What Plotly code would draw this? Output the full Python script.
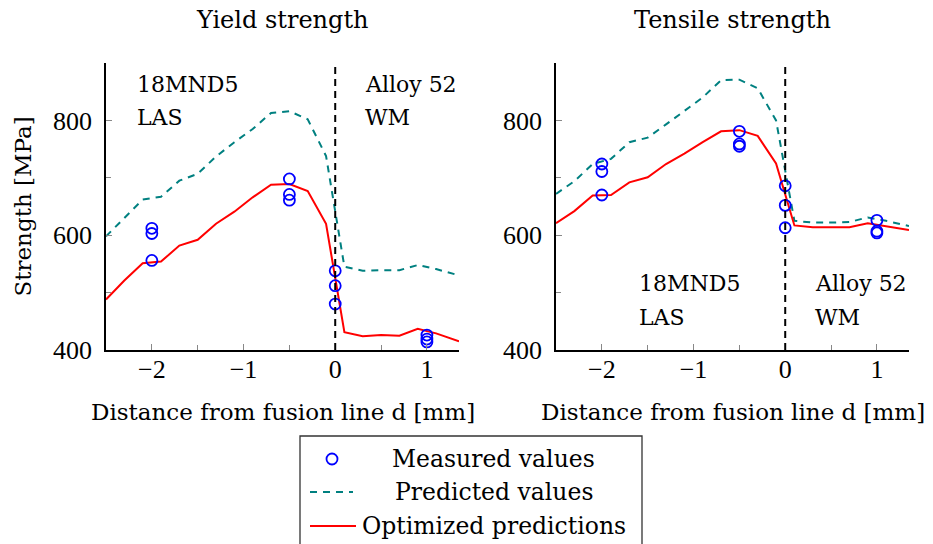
import plotly.graph_objects as go

# ---------------- data ----------------
x_grid = [-2.5, -2.3, -2.1, -1.9, -1.7, -1.5, -1.3, -1.1, -0.9, -0.7, -0.5,
          -0.3, -0.1, 0.1, 0.3, 0.5, 0.7, 0.9, 1.1, 1.35]

yield_predicted = [598, 630, 662, 667, 695, 707, 737, 762, 785, 813, 816,
                   802, 738, 545, 538, 539, 539, 548, 541, 530]
yield_optimized = [488, 521, 551, 554, 582, 592, 620, 641, 666, 688, 689,
                   677, 620, 431, 424, 426, 425, 437, 429, 415]

tensile_predicted = [672, 694, 724, 733, 762, 770, 793, 817, 840, 870, 871,
                     856, 800, 625, 622, 622, 623, 631, 625, 616]
tensile_optimized = [621, 642, 669, 670, 692, 701, 724, 742, 762, 781, 783,
                     773, 725, 617, 614, 614, 614, 621, 616, 609]

meas_x = [-2, -2, -2, -0.5, -0.5, -0.5, 0, 0, 0, 1, 1, 1]
yield_measured = [612, 603, 556, 698, 671, 661, 538, 512, 480, 426, 419, 414]
tensile_measured = [724, 711, 670, 781, 759, 755, 686, 652, 613, 626, 607, 604]

fusion_line_x = 0
x_range = [-2.5, 1.35]
y_range = [400, 900]

titles = ["Yield strength", "Tensile strength"]
x_label = "Distance from fusion line d [mm]"
y_label = "Strength [MPa]"
legend_labels = ["Measured values", "Predicted values", "Optimized predictions"]

# ---------------- layout constants ----------------
W, H = 933, 544
SERIF = "DejaVu Serif"
TICKFONT = "Liberation Serif"
TEAL, RED, BLUE = "#008080", "#ff0000", "#0000ff"

def px(xp):
    return xp / W

def py(yp):
    return (H - yp) / H

x_domains = [[px(106), px(459)], [px(556), px(909)]]
y_domain = [py(350), py(63)]

fig = go.Figure()

panels = [
    (yield_predicted, yield_optimized, yield_measured),
    (tensile_predicted, tensile_optimized, tensile_measured),
]

for i, (pred, opt, meas) in enumerate(panels):
    xa = "x" if i == 0 else "x2"
    ya = "y" if i == 0 else "y2"
    fig.add_trace(go.Scatter(x=x_grid, y=pred, mode="lines", xaxis=xa, yaxis=ya,
                             line=dict(color=TEAL, width=2, dash="7px,6px"),
                             showlegend=False))
    fig.add_trace(go.Scatter(x=x_grid, y=opt, mode="lines", xaxis=xa, yaxis=ya,
                             line=dict(color=RED, width=2),
                             showlegend=False))
    fig.add_shape(type="line", xref=xa, yref=ya + " domain",
                  x0=fusion_line_x, x1=fusion_line_x, y0=0, y1=1,
                  line=dict(color="black", width=2, dash="7px,5px"), layer="above")
    fig.add_trace(go.Scatter(x=meas_x, y=meas, mode="markers", xaxis=xa, yaxis=ya,
                             marker=dict(symbol="circle-open", size=11, color=BLUE,
                                         line=dict(width=1.8, color=BLUE)),
                             showlegend=False, cliponaxis=False))

axis_common = dict(showline=True, linecolor="black", linewidth=1.5, mirror=False,
                   showgrid=False, zeroline=False, ticks="inside", ticklen=6,
                   tickwidth=1, tickcolor="#888888", automargin=False,
                   tickfont=dict(family=TICKFONT, size=26, color="black"))

xaxis_cfg = dict(axis_common, range=x_range, tick0=0, dtick=1,
                 ticklabelstandoff=-5,
                 minor=dict(dtick=0.5, tick0=0, ticks="inside", ticklen=5,
                            tickcolor="#888888", tickwidth=1))
yaxis_cfg = dict(axis_common, range=y_range, tick0=400, dtick=200,
                 ticklabelstandoff=7,
                 minor=dict(dtick=100, tick0=400, ticks="inside", ticklen=5,
                            tickcolor="#888888", tickwidth=1))

fig.update_layout(
    width=W, height=H,
    margin=dict(l=0, r=0, t=0, b=0, pad=0, autoexpand=False),
    paper_bgcolor="white", plot_bgcolor="white",
    showlegend=False,
    xaxis=dict(xaxis_cfg, domain=x_domains[0], anchor="y"),
    yaxis=dict(yaxis_cfg, domain=y_domain, anchor="x"),
    xaxis2=dict(xaxis_cfg, domain=x_domains[1], anchor="y2"),
    yaxis2=dict(yaxis_cfg, domain=y_domain, anchor="x2"),
)

ann = []
txt = dict(family=SERIF, color="black")
# titles and x-axis labels
for i, t in enumerate(titles):
    cx = (x_domains[i][0] + x_domains[i][1]) / 2
    ann.append(dict(text=t, x=cx, y=py(20), xref="paper", yref="paper",
                    xanchor="center", yanchor="middle", showarrow=False,
                    font=dict(txt, size=24)))
    ann.append(dict(text=x_label, x=cx, y=py(412), xref="paper", yref="paper",
                    xanchor="center", yanchor="middle", showarrow=False,
                    font=dict(txt, size=23)))
# y label
ann.append(dict(text=y_label, x=px(22), y=(y_domain[0] + y_domain[1]) / 2,
                xref="paper", yref="paper", textangle=-90,
                xanchor="center", yanchor="middle", showarrow=False,
                font=dict(txt, size=23)))

# region labels
region_labels = [
    # (left px, line1 center px, line2 center px, line1, line2)
    (135, 84, 117, "18MND5", "LAS"),
    (363, 84, 117, "Alloy 52", "WM"),
    (637, 284, 317, "18MND5", "LAS"),
    (813, 284, 317, "Alloy 52", "WM"),
]
for lx, y1, y2, l1, l2 in region_labels:
    for yy, s in ((y1, l1), (y2, l2)):
        ann.append(dict(text=s, x=px(lx), y=py(yy), xref="paper", yref="paper",
                        xanchor="left", yanchor="middle", showarrow=False,
                        font=dict(txt, size=22)))

# legend (drawn manually to match centered entries)
leg_rows = [459, 492, 526]
for yy, s in zip(leg_rows, legend_labels):
    ann.append(dict(text=s, x=px(494), y=py(yy), xref="paper", yref="paper",
                    xanchor="center", yanchor="middle", showarrow=False,
                    font=dict(txt, size=23.5)))

fig.update_layout(annotations=ann)

fig.add_shape(type="rect", xref="paper", yref="paper",
              x0=px(300), x1=px(642), y0=py(548), y1=py(436),
              line=dict(color="#333333", width=1.3), fillcolor="rgba(0,0,0,0)")
fig.add_shape(type="circle", xref="paper", yref="paper",
              x0=px(326.5), x1=px(337.5), y0=py(464.5), y1=py(453.5),
              line=dict(color=BLUE, width=1.8))
fig.add_shape(type="line", xref="paper", yref="paper",
              x0=px(310), x1=px(353), y0=py(492), y1=py(492),
              line=dict(color=TEAL, width=2, dash="7px,6px"))
fig.add_shape(type="line", xref="paper", yref="paper",
              x0=px(310), x1=px(356), y0=py(526), y1=py(526),
              line=dict(color=RED, width=2))

fig.write_html("out.html")
